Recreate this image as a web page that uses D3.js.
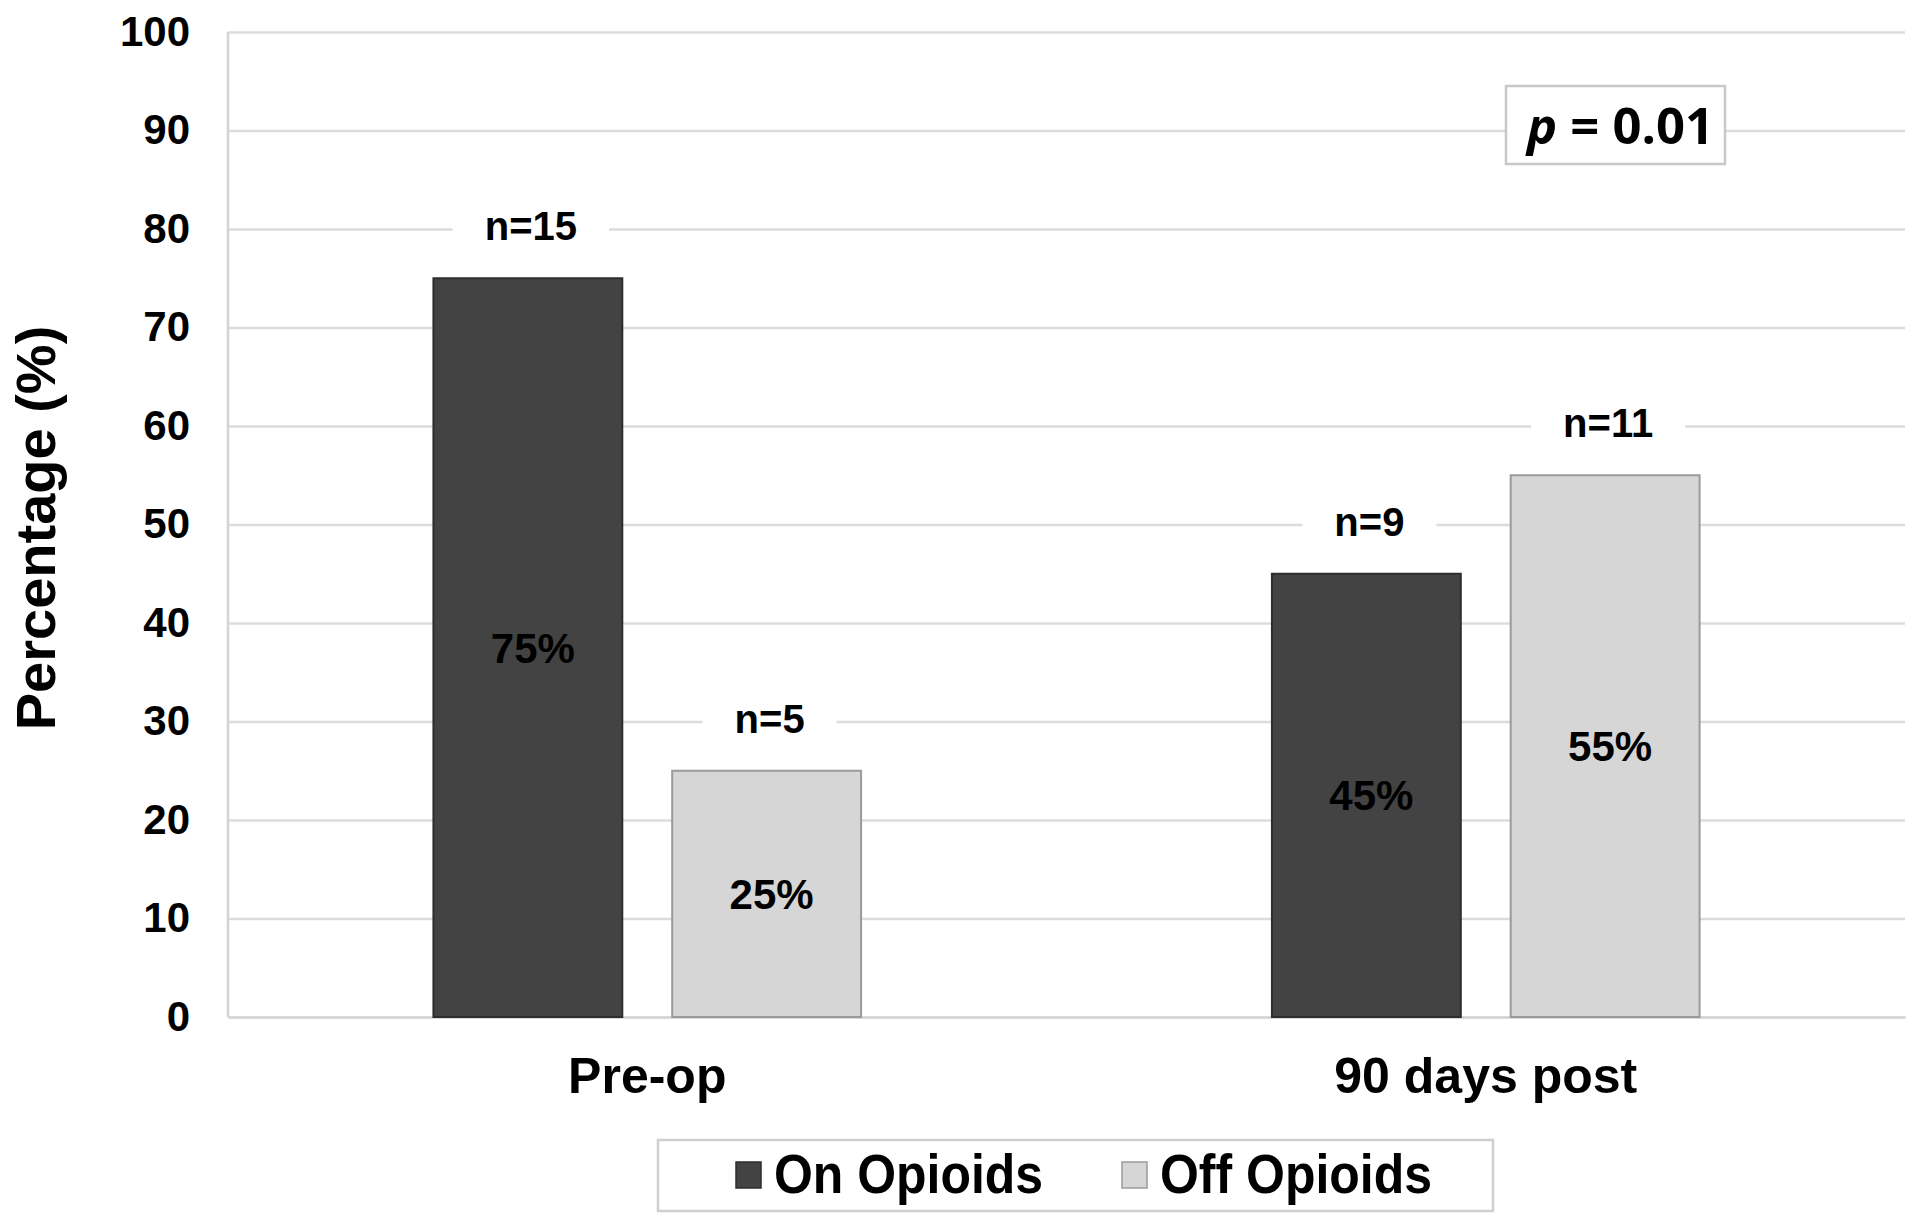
<!DOCTYPE html>
<html>
<head>
<meta charset="utf-8">
<script src="https://cdn.jsdelivr.net/npm/d3@7"></script>
<style>
  html, body { margin: 0; padding: 0; background: #fff; }
  svg { display: block; }
  text { font-family: "Liberation Sans", Arial, Helvetica, sans-serif; font-weight: bold; fill: #000; }
</style>
</head>
<body>
<svg id="chart" width="1920" height="1223"></svg>
<script>
// ---- data ----
const categories = ["Pre-op", "90 days post"];
const seriesNames = ["On Opioids", "Off Opioids"];
const onOpioids = [75, 45];      // %
const offOpioids = [25, 55];     // %
const onCounts = [15, 9];
const offCounts = [5, 11];
const yTicks = [0, 10, 20, 30, 40, 50, 60, 70, 80, 90, 100];
const yTitle = "Percentage (%)";
const pValueText = "0.01";

const seriesColors = ["#434343", "#d6d6d6"];
const seriesStroke = ["#2e2e2e", "#9a9a9a"];

// ---- layout ----
const svg = d3.select("#chart");
const plot = { left: 228, right: 1905, top: 32, bottom: 1017 };

const y = d3.scaleLinear().domain([0, 100]).range([plot.bottom, plot.top]);
const x0 = d3.scaleBand().domain(categories).range([plot.left, plot.right])
  .paddingInner(0.49).paddingOuter(0.245);
const x1 = d3.scaleBand().domain(seriesNames).range([0, x0.bandwidth()])
  .paddingInner(0.209).paddingOuter(0);

const rows = categories.map((c, i) => ({
  cat: c,
  vals: [
    { s: seriesNames[0], v: onOpioids[i], n: onCounts[i], k: 0 },
    { s: seriesNames[1], v: offOpioids[i], n: offCounts[i], k: 1 }
  ]
}));

// grid + y axis
const yAxis = d3.axisLeft(y).tickValues(yTicks).tickSize(-(plot.right - plot.left)).tickPadding(38);
const gy = svg.append("g").attr("transform", `translate(${plot.left},0)`).call(yAxis);
gy.select(".domain").remove();
gy.selectAll(".tick line").attr("stroke", "#dcdcdc").attr("stroke-width", 2.5);
gy.selectAll(".tick text").style("font-size", "42px").attr("fill", "#111");

// left axis line
svg.append("line").attr("x1", plot.left).attr("x2", plot.left)
  .attr("y1", y(100)).attr("y2", y(0)).attr("stroke", "#d4d4d4").attr("stroke-width", 2.5);

// x axis
const xAxis = d3.axisBottom(x0).tickSize(0).tickPadding(40);
const gx = svg.append("g").attr("transform", `translate(0,${plot.bottom})`).call(xAxis);
gx.select(".domain").attr("stroke", "#d4d4d4").attr("stroke-width", 2.5);
gx.selectAll(".tick text").style("font-size", "50px").attr("fill", "#111");

// bars
const groups = svg.append("g").selectAll("g").data(rows).join("g")
  .attr("transform", d => `translate(${x0(d.cat)},0)`);

groups.selectAll("rect.bar").data(d => d.vals).join("rect")
  .attr("class", "bar")
  .attr("x", d => x1(d.s))
  .attr("y", d => y(d.v))
  .attr("width", x1.bandwidth())
  .attr("height", d => y(0) - y(d.v))
  .attr("fill", d => seriesColors[d.k])
  .attr("stroke", d => seriesStroke[d.k])
  .attr("stroke-width", 2);

// percent labels inside bars
groups.selectAll("text.pct").data(d => d.vals).join("text")
  .attr("class", "pct")
  .attr("x", d => x1(d.s) + x1.bandwidth() / 2 + 5)
  .attr("y", d => y(d.v / 2))
  .attr("dy", "0.36em")
  .attr("text-anchor", "middle")
  .style("font-size", "42px")
  .attr("fill", "#151515")
  .text(d => d.v + "%");

// n labels above bars with white background
const nLab = groups.selectAll("g.nlab").data(d => d.vals).join("g").attr("class", "nlab");
nLab.append("rect").attr("fill", "#fff");
nLab.append("text")
  .attr("x", d => x1(d.s) + x1.bandwidth() / 2 + 3)
  .attr("y", d => y(d.v) - 38)
  .attr("text-anchor", "middle")
  .style("font-size", "40px")
  .text(d => "n=" + d.n);
nLab.each(function() {
  const g = d3.select(this);
  const bb = g.select("text").node().getBBox();
  g.select("rect").attr("x", bb.x - 32).attr("y", bb.y - 4)
    .attr("width", bb.width + 64).attr("height", bb.height + 8);
});

// p-value box
const pG = svg.append("g");
pG.append("rect").attr("x", 1506).attr("y", 86).attr("width", 219).attr("height", 78)
  .attr("fill", "#fff").attr("stroke", "#c8c8c8").attr("stroke-width", 2.5);
const pT = pG.append("text").attr("x", 1527).attr("y", 144)
  .style("font-size", "50px").style("font-family", "'Open Sans', 'Liberation Sans', sans-serif")
  .attr("textLength", 187).attr("lengthAdjust", "spacingAndGlyphs");
pT.append("tspan").style("font-style", "italic").text("p");
pT.append("tspan").text(" = " + pValueText);

// legend
const lg = svg.append("g");
lg.append("rect").attr("x", 658).attr("y", 1140).attr("width", 835).attr("height", 71)
  .attr("fill", "#fff").attr("stroke", "#cfcfcf").attr("stroke-width", 2.5);
const legendX = [736, 1122];
const legendTextW = [269, 272];
seriesNames.forEach((s, i) => {
  lg.append("rect").attr("x", legendX[i]).attr("y", 1162).attr("width", 25).attr("height", 26)
    .attr("fill", seriesColors[i]).attr("stroke", seriesStroke[i]).attr("stroke-width", 1.5);
  lg.append("text").attr("x", legendX[i] + 38).attr("y", 1193)
    .style("font-size", "56px")
    .attr("textLength", legendTextW[i]).attr("lengthAdjust", "spacingAndGlyphs")
    .text(s);
});

// y title
svg.append("text")
  .attr("transform", "translate(55,528) rotate(-90)")
  .attr("text-anchor", "middle")
  .style("font-size", "56px")
  .attr("fill", "#111")
  .text(yTitle);
</script>
</body>
</html>
